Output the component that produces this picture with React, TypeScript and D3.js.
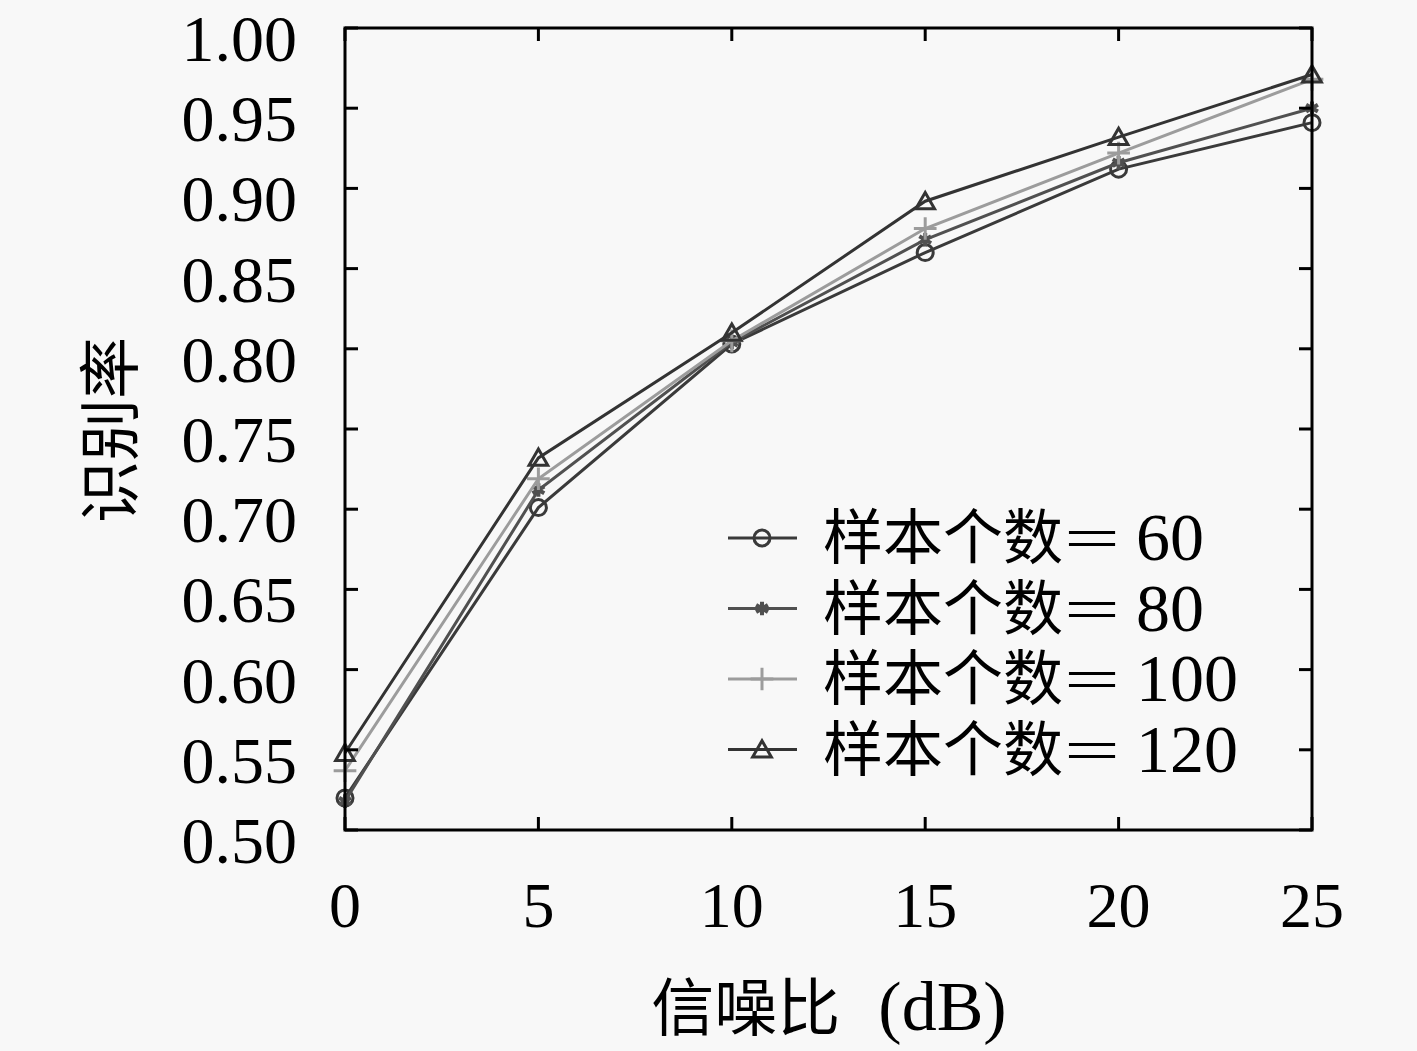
import * as d3 from 'd3';
import { useEffect, useRef } from 'react';

// signal-to-noise ratio (dB)
const snr = [0, 5, 10, 15, 20, 25];
const rate60 = [0.52, 0.701, 0.803, 0.86, 0.912, 0.941];
const rate80 = [0.518, 0.712, 0.804, 0.868, 0.916, 0.95];
const rate100 = [0.537, 0.719, 0.805, 0.875, 0.922, 0.968];
const rate120 = [0.548, 0.732, 0.81, 0.892, 0.932, 0.971];
const seriesNames = ['样本个数=60', '样本个数=80', '样本个数=100', '样本个数=120'];
const yTicks = [0.5, 0.55, 0.6, 0.65, 0.7, 0.75, 0.8, 0.85, 0.9, 0.95, 1.0];

const W = 1417;
const H = 1051;
const margin = { left: 345, right: 105, top: 28, bottom: 221 };
const serif = '"Liberation Serif", "DejaVu Serif", serif';
const cjk = '"Noto Sans CJK SC", sans-serif';

const App = () => {
  const ref = useRef<SVGSVGElement>(null);

  useEffect(() => {
    const svg = d3.select(ref.current);
    svg.selectAll('*').remove();

    const x = d3.scaleLinear().domain([0, 25]).range([margin.left, W - margin.right]);
    const y = d3.scaleLinear().domain([0.5, 1.0]).range([H - margin.bottom, margin.top]);

    svg.append('rect').attr('width', W).attr('height', H).attr('fill', '#f8f8f8');

    const series = [
      { name: seriesNames[0], values: rate60, color: '#3a3a3a', shape: 'circle' },
      { name: seriesNames[1], values: rate80, color: '#505050', shape: 'star' },
      { name: seriesNames[2], values: rate100, color: '#9c9c9c', shape: 'plus' },
      { name: seriesNames[3], values: rate120, color: '#333333', shape: 'triangle' },
    ];

    const drawMarker = (g: any, shape: string, cx: number, cy: number, color: string) => {
      if (shape === 'circle') {
        g.append('circle').attr('cx', cx).attr('cy', cy).attr('r', 8)
          .attr('fill', 'none').attr('stroke', color).attr('stroke-width', 3);
      } else if (shape === 'star') {
        g.append('path').attr('transform', `translate(${cx},${cy})`)
          .attr('d', d3.symbol(d3.symbolAsterisk, 130)())
          .attr('fill', 'none').attr('stroke', color).attr('stroke-width', 4);
      } else if (shape === 'plus') {
        g.append('path').attr('transform', `translate(${cx},${cy})`)
          .attr('d', d3.symbol(d3.symbolPlus, 170)())
          .attr('fill', 'none').attr('stroke', color).attr('stroke-width', 3);
      } else {
        g.append('path').attr('transform', `translate(${cx},${cy + 2})`)
          .attr('d', d3.symbol(d3.symbolTriangle2, 250)())
          .attr('fill', 'none').attr('stroke', color).attr('stroke-width', 3);
      }
    };

    const line = d3.line<number>().x((_, i) => x(snr[i])).y((d) => y(d));
    const plot = svg.append('g');
    series.forEach((s) => {
      plot.append('path').attr('d', line(s.values)).attr('fill', 'none')
        .attr('stroke', s.color).attr('stroke-width', 3);
      s.values.forEach((v, i) => drawMarker(plot, s.shape, x(snr[i]), y(v), s.color));
    });

    // frame + inward ticks on all sides
    const [x0, x1] = x.range();
    const [y0, y1] = y.range();
    svg.append('rect').attr('x', x0).attr('y', y1).attr('width', x1 - x0).attr('height', y0 - y1)
      .attr('fill', 'none').attr('stroke', '#000').attr('stroke-width', 3);
    const tickLen = 13;
    const ticks = svg.append('g').attr('stroke', '#000').attr('stroke-width', 3);
    snr.forEach((t) => {
      ticks.append('line').attr('x1', x(t)).attr('x2', x(t)).attr('y1', y0).attr('y2', y0 - tickLen);
      ticks.append('line').attr('x1', x(t)).attr('x2', x(t)).attr('y1', y1).attr('y2', y1 + tickLen);
    });
    yTicks.forEach((t) => {
      ticks.append('line').attr('x1', x0).attr('x2', x0 + tickLen).attr('y1', y(t)).attr('y2', y(t));
      ticks.append('line').attr('x1', x1).attr('x2', x1 - tickLen).attr('y1', y(t)).attr('y2', y(t));
    });

    svg.append('g').selectAll('text').data(snr).join('text')
      .attr('x', (d) => x(d)).attr('y', y0 + 97).attr('text-anchor', 'middle')
      .attr('font-family', serif).attr('font-size', 64).text((d) => String(d));
    svg.append('g').selectAll('text').data(yTicks).join('text')
      .attr('x', x0 - 48).attr('y', (d) => y(d) + 33).attr('text-anchor', 'end')
      .attr('font-family', serif).attr('font-size', 66).text((d) => d.toFixed(2));

    // axis titles
    svg.append('text').attr('transform', `translate(${106},${430}) rotate(-90)`)
      .attr('text-anchor', 'middle').attr('dominant-baseline', 'central')
      .attr('font-family', cjk).attr('font-size', 62).text('识别率');
    const xt = svg.append('text').attr('x', 829).attr('y', 1030).attr('text-anchor', 'middle');
    xt.append('tspan').attr('font-family', cjk).attr('font-size', 63).text('信噪比');
    xt.append('tspan').attr('font-family', serif).attr('font-size', 70).attr('dx', 38).text('(dB)');

    // legend
    const legend = svg.append('g');
    series.forEach((s, i) => {
      const ly = 538 + i * 70.5;
      legend.append('line').attr('x1', 728).attr('x2', 797).attr('y1', ly).attr('y2', ly)
        .attr('stroke', s.color).attr('stroke-width', 3);
      drawMarker(legend, s.shape, 762, ly, s.color);
      const [label, num] = s.name.split('=');
      legend.append('text').attr('x', 823).attr('y', ly + 21)
        .attr('font-family', cjk).attr('font-size', 60).text(label);
      legend.append('text').attr('transform', `translate(1064,${ly + 21}) scale(1.6,1)`)
        .attr('font-family', serif).attr('font-size', 62).text('=');
      legend.append('text').attr('x', 1136).attr('y', ly + 22)
        .attr('font-family', serif).attr('font-size', 68).text(num);
    });
  }, []);

  return (
    <svg
      ref={ref}
      width={W}
      height={H}
      style={{ display: 'block', position: 'absolute', left: 0, top: 0 }}
    />
  );
};

export default App;
